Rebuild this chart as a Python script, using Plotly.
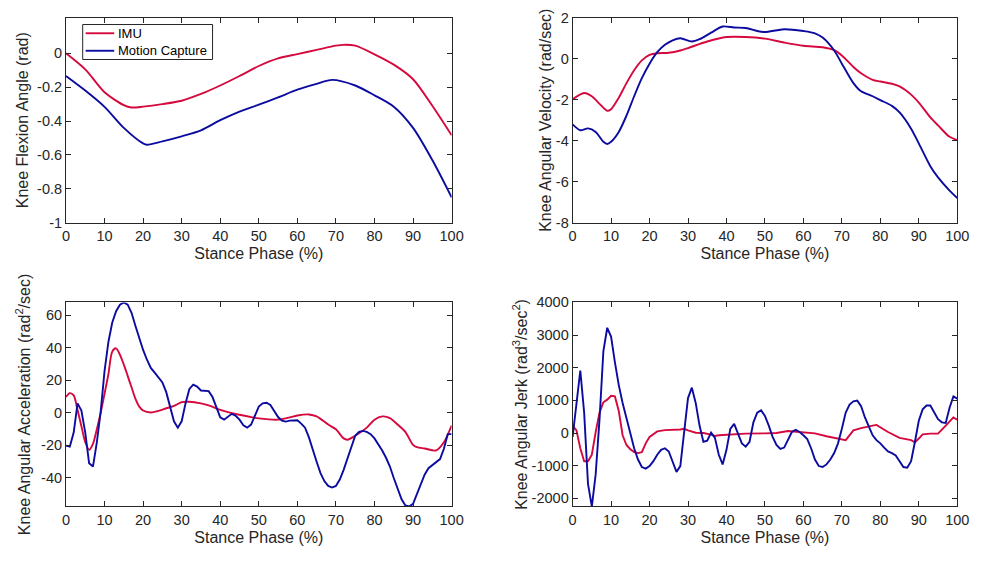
import plotly.graph_objects as go

# ---- Knee flexion angle (rad) ----
ang_x = [0, 5, 10, 15, 17, 20, 25, 30, 35, 40, 45, 50, 55, 60, 65, 70, 72, 75, 80, 85, 90, 95, 100]
ang_imu = [0.0, -0.095, -0.23, -0.306, -0.32, -0.315, -0.30, -0.28, -0.24, -0.19, -0.134, -0.075,
           -0.03, -0.005, 0.02, 0.045, 0.05, 0.045, -0.006, -0.067, -0.153, -0.31, -0.484]
ang_mocap_x = [0, 5, 10, 15, 20, 21, 25, 30, 35, 40, 45, 50, 55, 60, 65, 69, 75, 80, 85, 90, 95, 100]
ang_mocap = [-0.134, -0.22, -0.316, -0.44, -0.532, -0.54, -0.52, -0.49, -0.455, -0.395, -0.344, -0.303,
             -0.26, -0.215, -0.18, -0.157, -0.19, -0.248, -0.315, -0.44, -0.63, -0.85]

# ---- Knee angular velocity (rad/sec) ----
vel_imu_x = [0, 3, 5, 7, 9, 10, 12, 14, 16, 18, 20, 22, 25, 28, 30, 35, 40, 45, 50, 55, 60, 65, 68,
             70, 73, 75, 78, 80, 83, 85, 88, 90, 93, 95, 98, 100]
vel_imu = [-1.98, -1.67, -1.83, -2.2, -2.54, -2.46, -1.9, -1.19, -0.56, -0.08, 0.19, 0.27, 0.29, 0.4,
           0.52, 0.84, 1.06, 1.06, 0.98, 0.79, 0.63, 0.56, 0.42, 0.16, -0.4, -0.71, -1.03, -1.11,
           -1.22, -1.35, -1.75, -2.14, -2.86, -3.25, -3.81, -3.97]
vel_mocap_x = [0, 2, 4, 6, 8, 9, 10, 12, 14, 16, 18, 20, 22, 24, 26, 28, 31, 33, 36, 39, 42, 45, 48,
               50, 55, 60, 63, 65, 68, 70, 73, 75, 78, 80, 83, 85, 88, 90, 93, 95, 98, 100]
vel_mocap = [-3.2, -3.49, -3.4, -3.57, -4.05, -4.16, -4.05, -3.57, -2.78, -1.83, -0.95, -0.24, 0.32,
             0.68, 0.9, 1.0, 0.84, 0.95, 1.27, 1.57, 1.52, 1.5, 1.35, 1.3, 1.44, 1.35, 1.24, 1.03,
             0.4, -0.24, -1.19, -1.59, -1.83, -2.02, -2.3, -2.62, -3.41, -4.13, -5.24, -5.79,
             -6.43, -6.79]

# ---- Knee angular acceleration (rad^2/sec) ----
acc_imu_x = [0, 1, 2, 3, 4, 5, 6, 7, 8, 9, 10, 11, 12, 13, 14, 15, 16, 17, 18, 19, 20, 22, 24, 26,
             28, 30, 32, 35, 37, 40, 43, 45, 48, 50, 55, 58, 60, 63, 65, 68, 70, 72, 73, 75, 78,
             80, 82, 84, 86, 88, 90, 91, 93, 96, 98, 100]
acc_imu = [9.7, 12.1, 10.7, 1.8, -8.2, -18.0, -22.7, -19.0, -10.0, 0.0, 11.7, 23.7, 37.6, 39.6,
           35.6, 29.6, 22.7, 15.7, 8.7, 3.8, 1.4, 0.2, 1.2, 2.8, 4.2, 6.6, 6.8, 5.8, 4.6, 1.8, -0.2,
           -1.2, -2.6, -3.4, -4.2, -2.8, -1.6, -1.0, -2.2, -7.2, -10.1, -15.7, -16.5, -14.1, -9.1,
           -4.2, -2.2, -3.2, -7.2, -11.7, -19.7, -21.1, -21.9, -23.1, -18.1, -7.8]
acc_mocap_x = list(range(0, 101))
acc_mocap = [-20.1, -20.7, -12.1, 5.8, 1.4, -12.1, -31.0, -33.0, -18.1, 0.8,
             25.6, 43.5, 55.5, 62.4, 66.4, 67.8, 66.4, 61.4, 53.5, 45.5,
             38.6, 32.6, 27.6, 24.7, 21.7, 18.7, 12.7, 3.8, -5.2, -9.1,
             -5.2, 5.8, 14.7, 17.3, 16.1, 13.7, 13.3, 13.3, 9.7, 2.8,
             -2.8, -4.2, -2.6, -0.6, -1.8, -4.2, -7.6, -9.1, -7.2, -2.2,
             3.8, 5.8, 6.2, 4.8, 1.4, -2.6, -4.8, -5.4, -4.8, -4.6,
             -4.6, -6.6, -9.1, -15.1, -23.1, -30.0, -37.0, -41.9, -44.9, -45.9,
             -44.9, -41.0, -35.0, -28.0, -20.1, -14.1, -11.7, -11.1, -11.7, -13.1,
             -15.7, -19.1, -23.1, -27.6, -33.0, -40.0, -46.9, -52.9, -56.9, -57.5,
             -55.9, -49.9, -42.9, -38.0, -34.0, -32.0, -30.0, -28.4, -22.1, -13.1,
             -13.1]

# ---- Knee angular jerk (rad^3/sec^2) ----
jerk_imu_x = [0, 1, 2, 3, 4, 5, 6, 7, 8, 9, 10, 11, 12, 13, 14, 15, 16, 17, 18, 19, 20, 22, 24, 26,
              28, 29, 30, 32, 34, 36, 37, 38, 40, 42, 45, 50, 53, 56, 60, 63, 66, 70, 71, 73, 75,
              78, 79, 82, 85, 88, 89, 90, 91, 93, 95, 97, 99, 100]
jerk_imu = [228, 80, -466, -863, -863, -665, 30, 625, 942, 1022, 1141, 1121, 675, -69, -367, -496,
            -585, -615, -585, -317, -119, 50, 89, 89, 109, 129, 79, 10, 0, -50, -89, -69, -50, -40,
            -20, -10, 0, 60, 30, -10, -99, -188, -218, 79, 149, 228, 248, 30, -149, -218, -288, -169,
            -40, -20, -20, 228, 476, 407]
jerk_mocap_x = list(range(0, 101))
jerk_mocap = [-119, 922, 1915, 625, -1557, -2252, -1260, 426, 2510, 3224,
              2956, 2163, 1468, 922, 476, 30, -466, -813, -1042, -1091,
              -1012, -863, -665, -516, -466, -565, -863, -1190, -1012, -20,
              1071, 1389, 922, 228, -268, -238, 10, -149, -665, -962,
              -516, 129, 278, -20, -317, -417, -268, 327, 625, 694,
              526, 228, -119, -367, -486, -446, -218, 30, 99, 30,
              -69, -188, -466, -813, -1012, -1042, -962, -813, -615, -317,
              129, 625, 873, 972, 992, 823, 476, 179, -69, -218,
              -317, -446, -565, -615, -685, -863, -1042, -1062, -863, -268,
              377, 724, 843, 843, 625, 426, 327, 308, 774, 1121,
              1052]

series_names = ["IMU", "Motion Capture"]
x_ticks = list(range(0, 101, 10))
ang_ticks = [-1, -0.8, -0.6, -0.4, -0.2, 0]
ang_ticktext = ["-1", "-0.8", "-0.6", "-0.4", "-0.2", "0"]
vel_ticks = [-8, -6, -4, -2, 0, 2]
acc_ticks = [-40, -20, 0, 20, 40, 60]
jerk_ticks = [-2000, -1000, 0, 1000, 2000, 3000, 4000]

RED = "#D5093D"
BLUE = "#0B0BA0"
AX = "#262626"
FONT = "Liberation Sans, Arial, Helvetica, sans-serif"
W, H = 985, 565

fig = go.Figure()


def add_pair(xa, ya, xi, yi, xm, ym, shape_imu, shape_mocap):
    fig.add_trace(go.Scatter(x=xi, y=yi, mode="lines", name=series_names[0], xaxis=xa, yaxis=ya,
                             line=dict(color=RED, width=1.9, shape=shape_imu, smoothing=0.8),
                             showlegend=False))
    fig.add_trace(go.Scatter(x=xm, y=ym, mode="lines", name=series_names[1], xaxis=xa, yaxis=ya,
                             line=dict(color=BLUE, width=1.9, shape=shape_mocap, smoothing=0.8),
                             showlegend=False))


add_pair("x", "y", ang_x, ang_imu, ang_mocap_x, ang_mocap, "spline", "spline")
add_pair("x2", "y2", vel_imu_x, vel_imu, vel_mocap_x, vel_mocap, "spline", "spline")
add_pair("x3", "y3", acc_imu_x, acc_imu, acc_mocap_x, acc_mocap, "spline", "linear")
add_pair("x4", "y4", jerk_imu_x, jerk_imu, jerk_mocap_x, jerk_mocap, "linear", "linear")

common = dict(showline=True, linecolor=AX, linewidth=1, mirror="ticks", ticks="inside",
              ticklen=5, tickcolor=AX, tickwidth=1, showgrid=False, zeroline=False,
              tickfont=dict(family=FONT, size=14.5, color=AX))

xdom_l = [63 / W, 455 / W]
xdom_r = [578 / W, 969 / W]
ydom_t = [1 - 221 / H, 1 - 10 / H]
ydom_b = [1 - 513 / H, 1 - 303 / H]

xtitle = dict(text="Stance Phase (%)", font=dict(family=FONT, size=16, color=AX), standoff=4)


def ytitle(t, standoff):
    return dict(text=t, font=dict(family=FONT, size=16, color=AX), standoff=standoff)


fig.update_layout(
    width=W, height=H, margin=dict(l=0, r=0, t=0, b=0),
    plot_bgcolor="white", paper_bgcolor="white",
    font=dict(family=FONT, color=AX),
    showlegend=False,
    xaxis=dict(domain=xdom_l, anchor="y", range=[0, 100], tickvals=x_ticks, title=xtitle, **common),
    yaxis=dict(domain=ydom_t, anchor="x", range=[-1, 0.21], tickvals=ang_ticks, ticktext=ang_ticktext,
               title=ytitle("Knee Flexion Angle (rad)", 4), **common),
    xaxis2=dict(domain=xdom_r, anchor="y2", range=[0, 100], tickvals=x_ticks, title=xtitle, **common),
    yaxis2=dict(domain=ydom_t, anchor="x2", range=[-8, 2], tickvals=vel_ticks,
                ticktext=[str(v) for v in vel_ticks],
                title=ytitle("Knee Angular Velocity (rad/sec)", 0), **common),
    xaxis3=dict(domain=xdom_l, anchor="y3", range=[0, 100], tickvals=x_ticks, title=xtitle, **common),
    yaxis3=dict(domain=ydom_b, anchor="x3", range=[-57.5, 67.8], tickvals=acc_ticks,
                ticktext=[str(v) for v in acc_ticks],
                title=ytitle("Knee Angular Acceleration (rad<sup>2</sup>/sec)", 6), **common),
    xaxis4=dict(domain=xdom_r, anchor="y4", range=[0, 100], tickvals=x_ticks, title=xtitle, **common),
    yaxis4=dict(domain=ydom_b, anchor="x4", range=[-2250, 4000], tickvals=jerk_ticks,
                ticktext=[str(v) for v in jerk_ticks],
                title=ytitle("Knee Angular Jerk (rad<sup>3</sup>/sec<sup>2</sup>)", 0), **common),
)

# Compact legend box in the upper-left corner of the angle panel
box = dict(x0=80, x1=212, y0=17, y1=53)
fig.add_shape(type="rect", xref="paper", yref="paper",
              x0=box["x0"] / W, x1=box["x1"] / W, y0=1 - box["y1"] / H, y1=1 - box["y0"] / H,
              line=dict(color=AX, width=1), fillcolor="white", layer="above")
for i, (name, color) in enumerate(zip(series_names, [RED, BLUE])):
    ypx = 26 + 18 * i
    fig.add_shape(type="line", xref="paper", yref="paper",
                  x0=83 / W, x1=112 / W, y0=1 - ypx / H, y1=1 - ypx / H,
                  line=dict(color=color, width=1.9), layer="above")
    fig.add_annotation(xref="paper", yref="paper", x=114 / W, y=1 - ypx / H,
                       xanchor="left", yanchor="middle", text=name, showarrow=False,
                       font=dict(family=FONT, size=13, color="black"))

fig.write_html("out.html")
